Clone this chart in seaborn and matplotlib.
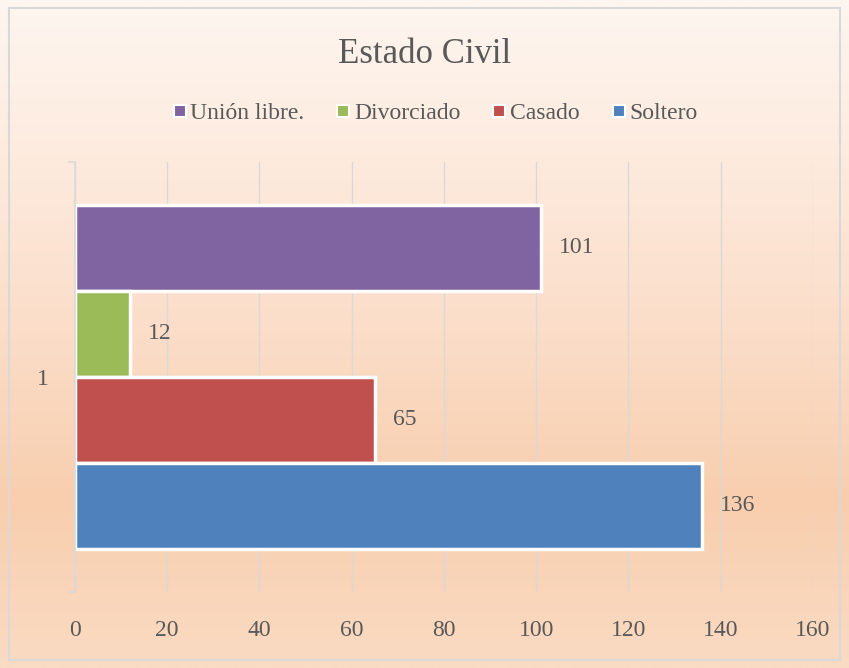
import numpy as np
import pandas as pd
import seaborn as sns
import matplotlib.pyplot as plt
from matplotlib.colors import LinearSegmentedColormap
from matplotlib.patches import Rectangle

estados = ["Unión libre.", "Divorciado", "Casado", "Soltero"]
cantidades = [101, 12, 65, 136]
colores = ["#8064A2", "#9BBB59", "#C0504D", "#4F81BD"]
x_ticks = [0, 20, 40, 60, 80, 100, 120, 140, 160]

df = pd.DataFrame({"estado": estados, "cantidad": cantidades})

sns.set_theme(style="white")
plt.rcParams['font.family'] = ['Liberation Serif', 'DejaVu Serif']
texto = "#595959"

fig = plt.figure(figsize=(8.49, 6.68), dpi=100)

# fondo degradado
bg = fig.add_axes([0, 0, 1, 1], zorder=-10)
grad = LinearSegmentedColormap.from_list(
    "fondo", ["#FEF6F0", "#FDEADD", "#FBDDC8", "#F8CEAE", "#FADBC3"])
bg.imshow(np.linspace(0, 1, 256).reshape(-1, 1), aspect="auto", cmap=grad,
          extent=[0, 1, 0, 1])
bg.set_axis_off()
fig.patches.append(Rectangle((0.011, 0.012), 0.978, 0.976, transform=fig.transFigure,
                             fill=False, edgecolor="#D9D9D9", lw=1.5))

ax = fig.add_axes([0.0883, 0.1138, 0.8693, 0.6437])
ax.patch.set_alpha(0)
sns.barplot(data=df, x="cantidad", y="estado", hue="estado", palette=colores,
            order=estados, width=1.0, edgecolor="white", linewidth=2.5,
            saturation=1, legend=False, ax=ax)

for c in ax.containers:
    ax.bar_label(c, padding=13, fontsize=17, color=texto)

ax.set_xlim(0, 160)
ax.set_ylim(4.0, -1.0)
ax.set_xticks(x_ticks)
ax.set_yticks([1.5])
ax.set_yticklabels(["1"])
ax.set_yticks([-1.0, 4.0], minor=True)
ax.tick_params(axis="x", length=0, pad=20, labelsize=17, labelcolor=texto)
ax.tick_params(axis="y", which="major", length=0, pad=19, labelsize=17, labelcolor=texto)
ax.tick_params(axis="y", which="minor", left=True, length=5, width=1.2, color="#D9D9D9")
ax.grid(axis="x", color="#D9D9D9", lw=1)
ax.set_axisbelow(True)
for s in ["top", "right", "bottom"]:
    ax.spines[s].set_visible(False)
ax.spines["left"].set_color("#D9D9D9")
ax.spines["left"].set_linewidth(1.2)
ax.set_xlabel("")
ax.set_ylabel("")

fig.text(0.5, 0.919, "Estado Civil", ha="center", va="center", fontsize=25, color=texto)

handles = [plt.Line2D([], [], marker="s", ls="", markersize=8, markerfacecolor=c,
                      markeredgecolor="white", markeredgewidth=1.5) for c in colores]
fig.legend(handles, estados, loc="center", bbox_to_anchor=(0.511, 0.83), ncol=4,
           frameon=False, fontsize=17, labelcolor=texto, handletextpad=0.05,
           columnspacing=1.25, handlelength=0.8)

fig.savefig("out.png", dpi=100)
